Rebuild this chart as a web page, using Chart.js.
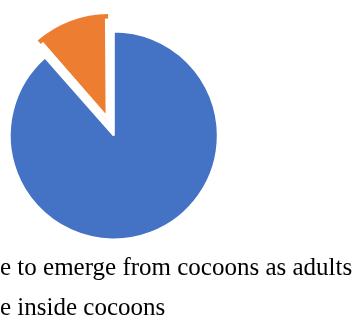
<!DOCTYPE html>
<html>
<head>
<meta charset="utf-8">
<script src="https://cdn.jsdelivr.net/npm/chart.js@4/dist/chart.umd.min.js"></script>
<style>
  html, body { margin: 0; padding: 0; background: #fff; overflow: hidden; }
  #wrap { position: relative; width: 355px; height: 320px; overflow: hidden; }
  #pie { position: absolute; left: 0; top: 0; }
  .row { position: absolute; left: 0; white-space: nowrap; color: #000;
         font-family: "Liberation Serif", "Times New Roman", serif; font-size: 25px; line-height: 30px; }
  .lead { position: absolute; right: 100%; top: 0; white-space: nowrap; }
  .sw { display: inline-block; width: 12px; height: 12px; margin-right: 8px; }
</style>
</head>
<body>
<div id="wrap">
  <canvas id="pie" width="355" height="320"></canvas>
  <div id="legend"></div>
</div>
<script>
const categories = ['Able to emerge from cocoons as adults', 'Die inside cocoons'];
const shares = [88.5, 11.5];
const sliceColors = ['#4472C4', '#ED7D31'];

const chart = new Chart(document.getElementById('pie'), {
  type: 'pie',
  data: {
    labels: categories,
    datasets: [{
      data: shares,
      backgroundColor: sliceColors,
      borderColor: '#ffffff',
      borderWidth: [2, 3.2],
      borderAlign: ['center', 'inner'],
      offset: [0, 56] // pull the small slice out
    }]
  },
  options: {
    responsive: false,
    animation: false,
    events: [],
    radius: 104,
    layout: { padding: { left: 0, right: 127.4, top: 0, bottom: 49 } },
    plugins: {
      legend: { display: false },
      tooltip: { enabled: false }
    }
  }
});

// legend as html below the pie; the start of each entry runs off the left edge
const legend = document.getElementById('legend');
chart.data.labels.forEach((label, i) => {
  const cut = label.indexOf(' ') - 1;
  const row = document.createElement('div');
  row.className = 'row';
  row.style.top = (252 + i * 40) + 'px';
  const lead = document.createElement('span');
  lead.className = 'lead';
  const sw = document.createElement('span');
  sw.className = 'sw';
  sw.style.background = chart.data.datasets[0].backgroundColor[i];
  lead.appendChild(sw);
  lead.appendChild(document.createTextNode(label.slice(0, cut)));
  row.appendChild(lead);
  row.appendChild(document.createTextNode(label.slice(cut)));
  legend.appendChild(row);
});
</script>
</body>
</html>
